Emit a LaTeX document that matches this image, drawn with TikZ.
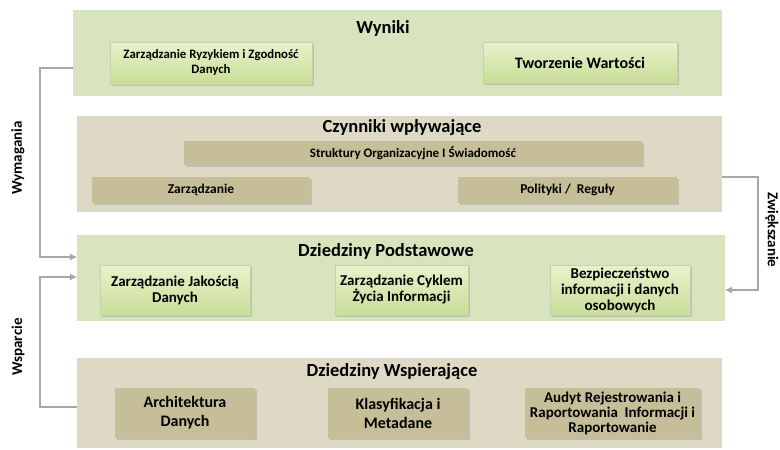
\documentclass[tikz,border=0pt]{standalone}
\usepackage{fontspec}
\setmainfont{Carlito}
\usepackage{xcolor}
\definecolor{panelg}{RGB}{216,228,190}
\definecolor{panelt}{RGB}{221,217,197}
\definecolor{boxgtop}{RGB}{232,242,204}
\definecolor{boxgbot}{RGB}{200,222,152}
\definecolor{boxt}{RGB}{197,190,152}
\definecolor{linkc}{RGB}{168,168,168}
\usepackage{tikz}
\usetikzlibrary{arrows.meta,shadows,positioning}

\begin{document}
\begin{tikzpicture}[x=1pt,y=-1pt,
  panel/.style={inner sep=0pt,minimum width=#1},
  gbox/.style={align=center,inner sep=2pt,top color=boxgtop,bottom color=boxgbot,
    draw=boxgbot!80!black!60,line width=0.4pt,
    drop shadow={shadow xshift=1.5pt,shadow yshift=-1.5pt,opacity=0.35}},
  tbox/.style={align=center,inner sep=2pt,fill=boxt,
    drop shadow={shadow xshift=1.5pt,shadow yshift=-1.5pt,opacity=0.3}},
  title/.style={font=\fontsize{18.5}{20}\selectfont\bfseries},
  lbl/.style={font=\fontsize{15}{16}\selectfont\bfseries},
  link/.style={draw=linkc,line width=2pt,-{Triangle[length=7pt,width=6pt]}}]
  \useasboundingbox (0,0) rectangle (780,450);
  % panels
  \node[panel=649,minimum height=86,fill=panelg] (wyn) at (397.5,53) {};
  \node[panel=645,minimum height=96,fill=panelt] (czy) at (399.5,164) {};
  \node[panel=648,minimum height=86,fill=panelg] (pod) at (401,278) {};
  \node[panel=645,minimum height=90,fill=panelt] (wsp) at (399.5,403) {};
  \node[title] (wynT) at (383,28) {Wyniki};
  \node[title] (czyT) at (402,128) {Czynniki wpływające};
  \node[title] (podT) at (386,251) {Dziedziny Podstawowe};
  \node[title] (wspT) at (392,372) {Dziedziny Wspierające};
  % Wyniki
  \node[gbox,minimum width=202,minimum height=42,font=\fontsize{12.8}{15}\selectfont\bfseries] (ryz) at (211,63)
    {Zarządzanie Ryzykiem i Zgodność\\Danych};
  \node[gbox,minimum width=194,minimum height=41,font=\fontsize{16}{18}\selectfont\bfseries] (two) at (580,62.5)
    {Tworzenie Wartości};
  % Czynniki
  \node[tbox,minimum width=458,minimum height=24,font=\fontsize{13}{15}\selectfont\bfseries] (str) at (413,153)
    {Struktury Organizacyjne I Świadomość};
  \node[tbox,minimum width=218,minimum height=26,font=\fontsize{13.5}{15}\selectfont\bfseries] (zar) at (201,190)
    {Zarządzanie};
  \node[tbox,minimum width=219,minimum height=26,font=\fontsize{13.5}{15}\selectfont\bfseries] (pol) at (567.5,190)
    {Polityki /~ Reguły};
  % Dziedziny Podstawowe
  \node[gbox,minimum width=150,minimum height=50,font=\fontsize{15}{16}\selectfont\bfseries] (jak) at (175,290)
    {Zarządzanie Jakością\\Danych};
  \node[gbox,minimum width=133,minimum height=50,font=\fontsize{15}{16}\selectfont\bfseries] (cyk) at (401.5,290)
    {Zarządzanie Cyklem\\Życia Informacji};
  \node[gbox,minimum width=140,minimum height=50,font=\fontsize{15}{16}\selectfont\bfseries] (bez) at (620,290)
    {Bezpieczeństwo\\informacji i danych\\osobowych};
  % Dziedziny Wspierajace
  \node[tbox,minimum width=140,minimum height=50,font=\fontsize{16}{19}\selectfont\bfseries] (arc) at (185,413)
    {Architektura\\Danych};
  \node[tbox,minimum width=140,minimum height=50,font=\fontsize{16}{19}\selectfont\bfseries] (kla) at (398,413)
    {Klasyfikacja i\\Metadane};
  \node[tbox,minimum width=175,minimum height=50,font=\fontsize{15}{15}\selectfont\bfseries] (aud) at (612.5,413)
    {Audyt Rejestrowania i\\Raportowania~ Informacji i\\Raportowanie};
  % connectors
  \draw[link] ([yshift=-15pt]wyn.west) -- ++(-33,0) |- ([yshift=21pt]pod.west);
  \draw[link] ([yshift=-4pt]wsp.west) -- ++(-37,0) |- ([yshift=1pt]pod.west);
  \draw[link] ([yshift=-13pt]czy.east) -- ++(36,0) |- ([yshift=-12pt]pod.east);
  \node[lbl,rotate=90] (wym) at (18,158) {Wymagania};
  \node[lbl,rotate=90] (wsa) at (18,347) {Wsparcie};
  \node[lbl,rotate=-90] (zwi) at (772,230) {Zwiększanie};
\end{tikzpicture}
\end{document}
